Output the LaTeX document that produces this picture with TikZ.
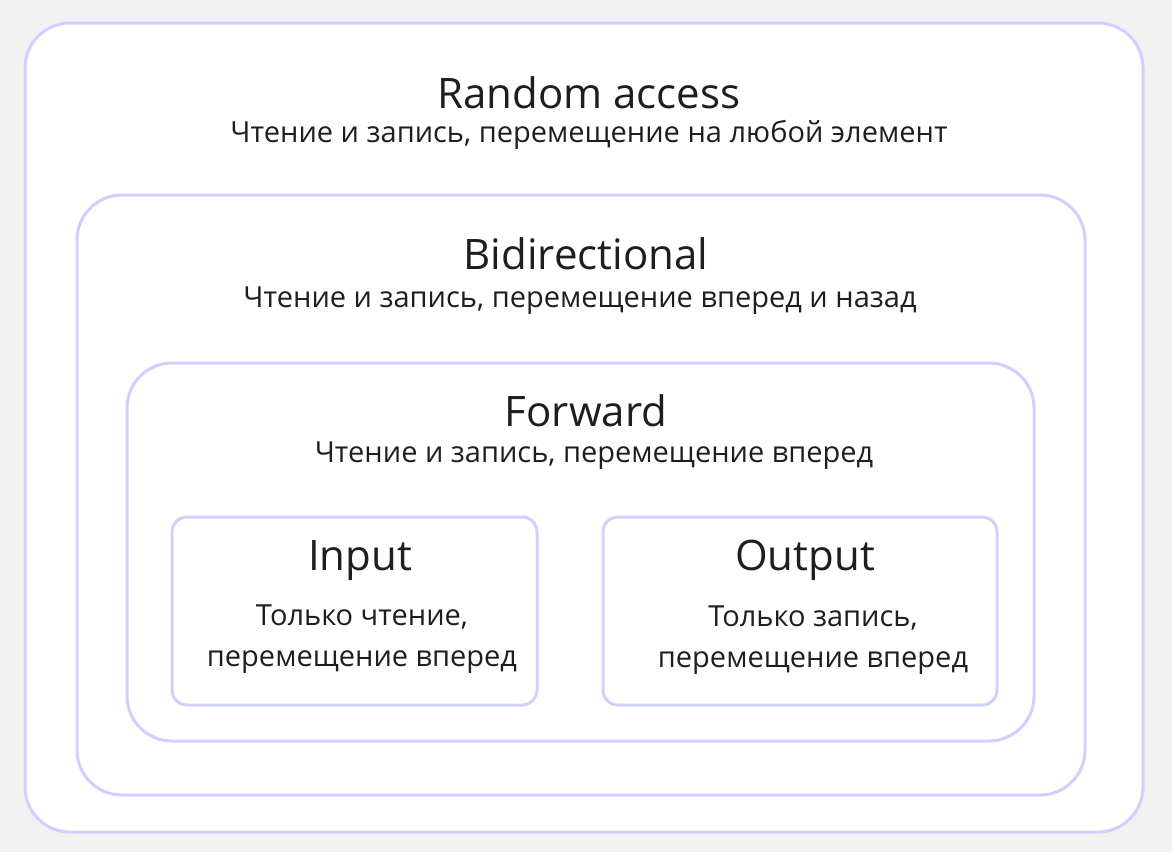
\documentclass[tikz,border=0pt]{standalone}
\usepackage{fontspec}
\setmainfont{Open Sans}
\definecolor{bg}{HTML}{F2F2F2}
\definecolor{edge}{HTML}{D0D0FF}
\definecolor{ink}{HTML}{1E1E1E}
\begin{document}
\begin{tikzpicture}[x=1pt,y=-1pt,
  frame/.style={draw=edge,line width=3pt,fill=white},
  title/.style={anchor=base,inner sep=0pt,text=ink,font=\fontsize{42}{50}\selectfont},
  sub/.style={anchor=base,inner sep=0pt,text=ink,font=\fontsize{29}{40}\selectfont}]
\fill[bg] (0,0) rectangle (1172,852);
\useasboundingbox (0,0) rectangle (1172,852);
\draw[frame,rounded corners=45pt] (25,23) rectangle (1143,832);
\draw[frame,rounded corners=45pt] (77,195) rectangle (1085,795);
\draw[frame,rounded corners=45pt] (127,363) rectangle (1034,741);
\draw[frame,rounded corners=15pt] (172,517) rectangle (537,705);
\draw[frame,rounded corners=15pt] (603,517) rectangle (997,705);
\node[title] (ra) at (589,108) {Random access};
\node[sub] (ras) at (589,142) {Чтение и запись, перемещение на любой элемент};
\node[title] (bi) at (586,269) {Bidirectional};
\node[sub] (bis) at (580,307) {Чтение и запись, перемещение вперед и назад};
\node[title] (fw) at (586,426) {Forward};
\node[sub] (fws) at (594,462) {Чтение и запись, перемещение вперед};
\node[title] (in) at (360,570) {Input};
\node[sub] (in1) at (362,625) {Только чтение,};
\node[sub] (in2) at (362,666) {перемещение вперед};
\node[title] (out) at (805,570) {Output};
\node[sub] (out1) at (813,626) {Только запись,};
\node[sub] (out2) at (813,667) {перемещение вперед};
\end{tikzpicture}
\end{document}
